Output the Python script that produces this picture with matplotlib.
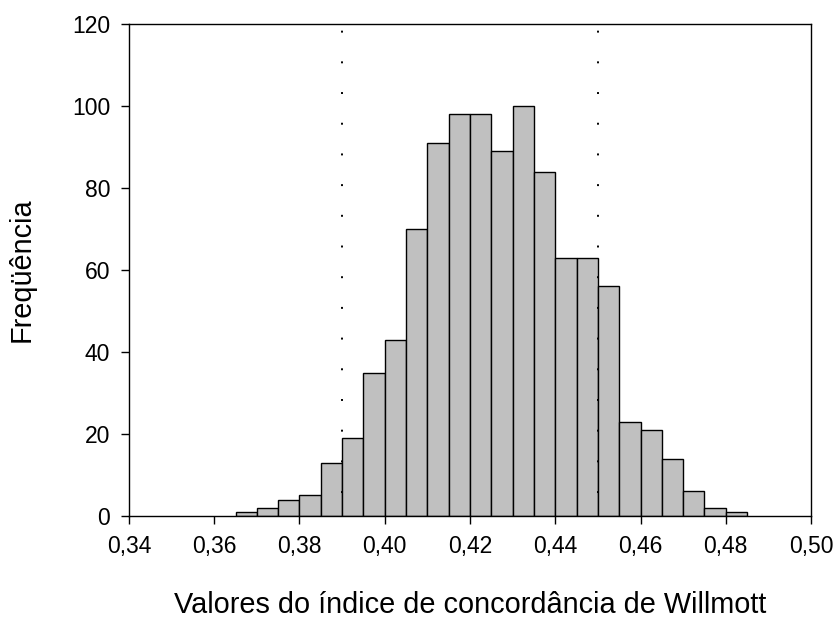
import matplotlib
matplotlib.use("Agg")
import matplotlib.pyplot as plt
from matplotlib.ticker import FuncFormatter

plt.rcParams['font.family'] = ['Liberation Sans', 'DejaVu Sans']
plt.rcParams['lines.scale_dashes'] = False

# histogram of the Willmott index, bin width 0.005
bin_left = [0.365, 0.370, 0.375, 0.380, 0.385, 0.390, 0.395, 0.400,
            0.405, 0.410, 0.415, 0.420, 0.425, 0.430, 0.435, 0.440,
            0.445, 0.450, 0.455, 0.460, 0.465, 0.470, 0.475, 0.480]
counts = [1, 2, 4, 5, 13, 19, 35, 43,
          70, 91, 98, 98, 89, 100, 84, 63,
          63, 56, 23, 21, 14, 6, 2, 1]
bin_width = 0.005
limits = [0.39, 0.45]

x_ticks = [0.34, 0.36, 0.38, 0.40, 0.42, 0.44, 0.46, 0.48, 0.50]
y_ticks = [0, 20, 40, 60, 80, 100, 120]

W, H = 837, 619
fig = plt.figure(figsize=(W / 100, H / 100), dpi=100)
ax = fig.add_axes([0.1541, 0.1664, 0.8149, 0.7948])

ax.bar(bin_left, counts, width=bin_width, align='edge',
       color='#c0c0c0', edgecolor='black', linewidth=1.0, zorder=2)

# dotted limit lines, drawn top to bottom
for x in limits:
    ax.plot([x, x], [120, 0], color='black', linewidth=1.4,
            linestyle=(17.3, (1.4, 20.7)), zorder=3)

ax.set_xlim(0.34, 0.50)
ax.set_ylim(0, 120)
ax.set_xticks(x_ticks)
ax.set_yticks(y_ticks)
ax.xaxis.set_major_formatter(FuncFormatter(lambda v, p: f"{v:.2f}".replace('.', ',')))
ax.tick_params(direction='out', length=5.5, width=1, labelsize=16.5)
ax.tick_params(axis='x', pad=8.5)
ax.tick_params(axis='y', pad=8)

for s in ax.spines.values():
    s.set_linewidth(1.0)

fig.text(470 / W, 1 - 613 / H, "Valores do índice de concordância de Willmott",
         fontsize=20.8, ha='center', va='baseline')
fig.text(8 / W, 1 - 270 / H, "Freqüência", fontsize=20.8, rotation=90,
         ha='left', va='center')

fig.savefig("out.png", dpi=100)
